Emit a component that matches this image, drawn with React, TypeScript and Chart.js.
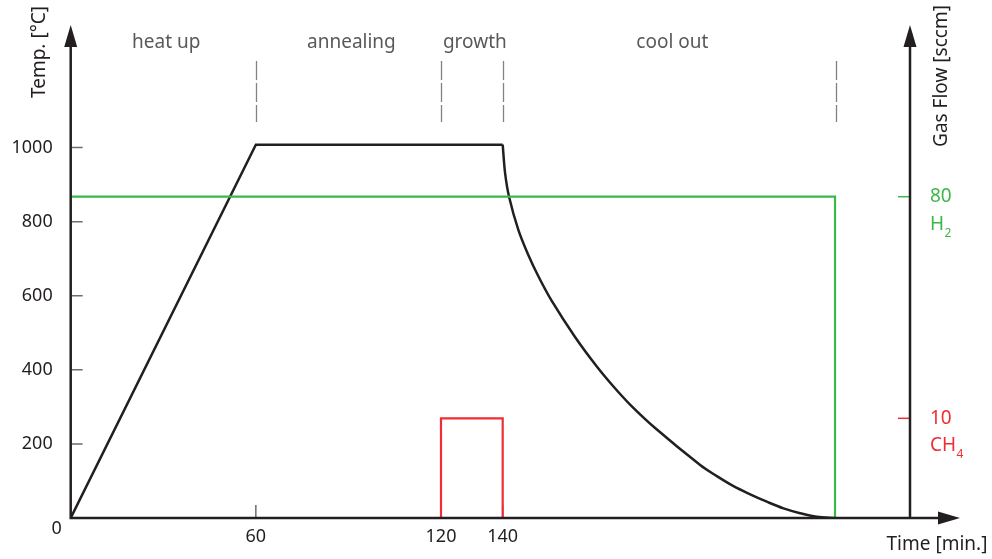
import React, { useEffect, useRef } from 'react';
import { Chart, LinearScale, registerables } from 'chart.js';

Chart.register(...registerables);

// ---- process schedule data ----
const phaseNames = ['heat up', 'annealing', 'growth', 'cool out'];
const phaseBounds = [0, 60, 120, 140, 248];

// heating ramp and hold (min, °C)
const heatTimes = [0, 60, 140];
const heatTemps = [0, 1008, 1008];

// natural cool-down after growth (min, °C)
const coolTimes = [140, 140.8, 142.1, 145.1, 148.3, 151.6, 155.9, 163.5, 170.5, 175.9, 181.2, 189.4, 204, 209.4, 214.8, 220.2, 225.6, 231, 236.4, 241.8, 247.7];
const coolTemps = [1008, 930, 866, 777, 710, 652, 586, 488, 409, 355, 307, 243, 143, 113, 86, 64, 44, 26, 13, 3.5, 0];

// gas flows (min, sccm)
const h2Times = [0, 247.7, 247.7];
const h2Flow = [80, 80, 0];
const ch4Times = [120, 120, 140, 140];
const ch4Flow = [0, 10, 10, 0];

// axis ticks
const tempTicks = [200, 400, 600, 800, 1000];
const timeTicks = [60, 120, 140];
const gasTicks = [10, 80];
const gasNames = ['CH', 'H'];
const gasSubs = ['4', '2'];

const INK = '#231f20';
const GREY = '#6d6e71';
const H2_COLOR = '#3cb84a';
const CH4_COLOR = '#ee2e31';
const gasColors = [CH4_COLOR, H2_COLOR];
const FONT = '"Noto Sans", "Open Sans", sans-serif';

// The gas-flow axis is a schematic, not to scale: piecewise linear between anchors
const GAS_ANCHORS: [number, number][] = [[0, 0], [10, 0.2022], [80, 0.6517]];

function gasToDecimal(v: number): number {
  const a = GAS_ANCHORS;
  for (let i = 1; i < a.length; i++) {
    if (v <= a[i][0] || i === a.length - 1) {
      const [v0, d0] = a[i - 1];
      const [v1, d1] = a[i];
      return d0 + ((v - v0) / (v1 - v0)) * (d1 - d0);
    }
  }
  return 0;
}

function decimalToGas(d: number): number {
  const a = GAS_ANCHORS;
  for (let i = 1; i < a.length; i++) {
    if (d <= a[i][1] || i === a.length - 1) {
      const [v0, d0] = a[i - 1];
      const [v1, d1] = a[i];
      return v0 + ((d - d0) / (d1 - d0)) * (v1 - v0);
    }
  }
  return 0;
}

class GasFlowScale extends LinearScale {
  static id = 'gasflow';
  getPixelForValue(value: any) {
    if (value === null || value === undefined || isNaN(value)) return NaN;
    return this.getPixelForDecimal(gasToDecimal(value));
  }
  getValueForPixel(pixel: number) {
    return decimalToGas(this.getDecimalForPixel(pixel));
  }
}
Chart.register(GasFlowScale);

const toPoints = (xs: number[], ys: number[]) => xs.map((x, i) => ({ x, y: ys[i] }));

// fixed axis box sizes, with no extra room requested for edge labels
const fixBox = (size: { width?: number; height?: number }) => (s: any) => {
  if (size.width !== undefined) s.width = size.width;
  if (size.height !== undefined) s.height = size.height;
  s.paddingTop = 0;
  s.paddingBottom = 0;
  s.paddingLeft = 0;
  s.paddingRight = 0;
};

const processDecor = {
  id: 'processDecor',
  beforeDatasetsDraw(chart: any) {
    const { ctx, chartArea: a, scales } = chart;
    const xs = scales.x, ys = scales.y, gs = scales.gas;
    ctx.save();
    // inward tick marks
    ctx.lineWidth = 1.5;
    ctx.strokeStyle = GREY;
    ctx.beginPath();
    for (const v of tempTicks) {
      const py = ys.getPixelForValue(v);
      ctx.moveTo(a.left, py);
      ctx.lineTo(a.left + 12, py);
    }
    for (const v of timeTicks) {
      const px = xs.getPixelForValue(v);
      ctx.moveTo(px, a.bottom);
      ctx.lineTo(px, a.bottom - 13);
    }
    ctx.stroke();
    gasTicks.forEach((v, i) => {
      const py = gs.getPixelForValue(v);
      ctx.strokeStyle = gasColors[i];
      ctx.beginPath();
      ctx.moveTo(a.right - 12, py);
      ctx.lineTo(a.right, py);
      ctx.stroke();
    });

    // dashed phase separators
    ctx.strokeStyle = '#808285';
    ctx.lineWidth = 1.3;
    ctx.setLineDash([19, 3]);
    for (const t of phaseBounds.slice(1)) {
      const px = Math.round(xs.getPixelForValue(t)) + 0.5;
      ctx.beginPath();
      ctx.moveTo(px, 61);
      ctx.lineTo(px, 122);
      ctx.stroke();
    }
    ctx.setLineDash([]);

    // phase names centred over each interval
    ctx.fillStyle = '#58595b';
    ctx.font = `19px ${FONT}`;
    ctx.textAlign = 'center';
    ctx.textBaseline = 'alphabetic';
    phaseNames.forEach((name, i) => {
      const mid = (phaseBounds[i] + phaseBounds[i + 1]) / 2;
      ctx.fillText(name, xs.getPixelForValue(mid) + 3, 48);
    });
    ctx.restore();
  },
  afterDatasetsDraw(chart: any) {
    const { ctx, chartArea: a, scales } = chart;
    const gs = scales.gas;
    ctx.save();
    ctx.strokeStyle = INK;
    ctx.fillStyle = INK;
    ctx.lineWidth = 2.5;
    const xTip = 960;
    const yTip = 25;
    // axis lines
    ctx.beginPath();
    ctx.moveTo(a.left, a.bottom + 1.2);
    ctx.lineTo(a.left, yTip + 18);
    ctx.moveTo(a.right, a.bottom);
    ctx.lineTo(a.right, yTip + 18);
    ctx.moveTo(a.left - 1.2, a.bottom);
    ctx.lineTo(xTip - 18, a.bottom);
    ctx.stroke();
    // arrowheads
    const upArrow = (x: number) => {
      ctx.beginPath();
      ctx.moveTo(x, yTip);
      ctx.lineTo(x + 6.5, yTip + 22);
      ctx.lineTo(x - 6.5, yTip + 22);
      ctx.closePath();
      ctx.fill();
    };
    upArrow(a.left);
    upArrow(a.right);
    ctx.beginPath();
    ctx.moveTo(xTip, a.bottom);
    ctx.lineTo(xTip - 22, a.bottom - 6.5);
    ctx.lineTo(xTip - 22, a.bottom + 6.5);
    ctx.closePath();
    ctx.fill();

    // shared origin label
    ctx.font = `18px ${FONT}`;
    ctx.textAlign = 'center';
    ctx.textBaseline = 'middle';
    ctx.fillText('0', a.left - 14, a.bottom + 11);

    // axis titles
    ctx.font = `19px ${FONT}`;
    ctx.textBaseline = 'alphabetic';
    ctx.fillText('Time [min.]', 937, 550);
    ctx.save();
    ctx.translate(45, 52);
    ctx.rotate(-Math.PI / 2);
    ctx.fillText('Temp. [°C]', 0, 0);
    ctx.restore();
    ctx.save();
    ctx.translate(947, 76);
    ctx.rotate(-Math.PI / 2);
    ctx.fillText('Gas Flow [sccm]', 0, 0);
    ctx.restore();

    // gas names with subscripts under the right-axis values
    ctx.textAlign = 'left';
    gasTicks.forEach((v, i) => {
      const py = gs.getPixelForValue(v);
      ctx.fillStyle = gasColors[i];
      ctx.font = `19px ${FONT}`;
      ctx.fillText(gasNames[i], a.right + 20, py + 33);
      const w = ctx.measureText(gasNames[i]).width;
      ctx.font = `12px ${FONT}`;
      ctx.fillText(gasSubs[i], a.right + 20 + w + 0.5, py + 40);
    });
    ctx.restore();
  },
};

export default function App() {
  const canvasRef = useRef<HTMLCanvasElement | null>(null);

  useEffect(() => {
    const canvas = canvasRef.current;
    if (!canvas) return;
    const chart = new Chart(canvas, {
      type: 'line',
      data: {
        datasets: [
          {
            label: 'H2',
            data: toPoints(h2Times, h2Flow),
            yAxisID: 'gas',
            borderColor: H2_COLOR,
            borderWidth: 2.2,
            pointRadius: 0,
            tension: 0,
          },
          {
            label: 'CH4',
            data: toPoints(ch4Times, ch4Flow),
            yAxisID: 'gas',
            borderColor: CH4_COLOR,
            borderWidth: 2.2,
            pointRadius: 0,
            tension: 0,
          },
          {
            label: 'Temperature',
            data: toPoints(heatTimes, heatTemps),
            yAxisID: 'y',
            borderColor: INK,
            borderWidth: 2.5,
            pointRadius: 0,
            tension: 0,
          },
          {
            label: 'Cooling',
            data: toPoints(coolTimes, coolTemps),
            yAxisID: 'y',
            borderColor: INK,
            borderWidth: 2.5,
            pointRadius: 0,
            tension: 0.35,
          },
        ],
      },
      options: {
        animation: false,
        responsive: true,
        maintainAspectRatio: false,
        layout: { padding: { top: 25, left: 0, right: 0, bottom: 0 } },
        plugins: { legend: { display: false }, tooltip: { enabled: false } },
        scales: {
          x: {
            type: 'linear',
            position: 'bottom',
            min: 0,
            max: 272,
            grid: { display: false, drawTicks: false, tickLength: 0 },
            border: { display: false },
            afterBuildTicks: (s: any) => { s.ticks = timeTicks.map((v) => ({ value: v })); },
            afterFit: fixBox({ height: 41 }),
            ticks: {
              autoSkip: false,
              maxRotation: 0,
              padding: 8,
              color: INK,
              font: { family: FONT, size: 18 },
              callback: (v: any) => String(v),
            },
          },
          y: {
            type: 'linear',
            position: 'left',
            min: 0,
            max: 1331,
            grid: { display: false, drawTicks: false, tickLength: 0 },
            border: { display: false },
            afterBuildTicks: (s: any) => { s.ticks = tempTicks.map((v) => ({ value: v })); },
            afterFit: fixBox({ width: 70.7 }),
            ticks: {
              autoSkip: false,
              padding: 18,
              color: INK,
              font: { family: FONT, size: 18 },
              callback: (v: any) => String(v),
            },
          },
          gas: {
            type: 'gasflow',
            axis: 'y',
            position: 'right',
            min: 0,
            max: 200,
            grid: { display: false, drawTicks: false, tickLength: 0 },
            border: { display: false },
            afterBuildTicks: (s: any) => { s.ticks = gasTicks.map((v) => ({ value: v })); },
            afterFit: fixBox({ width: 82 }),
            ticks: {
              autoSkip: false,
              padding: 20,
              color: (c: any) => gasColors[gasTicks.indexOf(c.tick?.value)] || INK,
              font: { family: FONT, size: 19 },
              callback: (v: any) => String(v),
            },
          },
        },
      } as any,
      plugins: [processDecor],
    });
    return () => chart.destroy();
  }, []);

  return (
    <div style={{ position: 'fixed', left: 0, top: 0, width: 992, height: 559, background: '#fff' }}>
      <canvas ref={canvasRef} />
    </div>
  );
}
